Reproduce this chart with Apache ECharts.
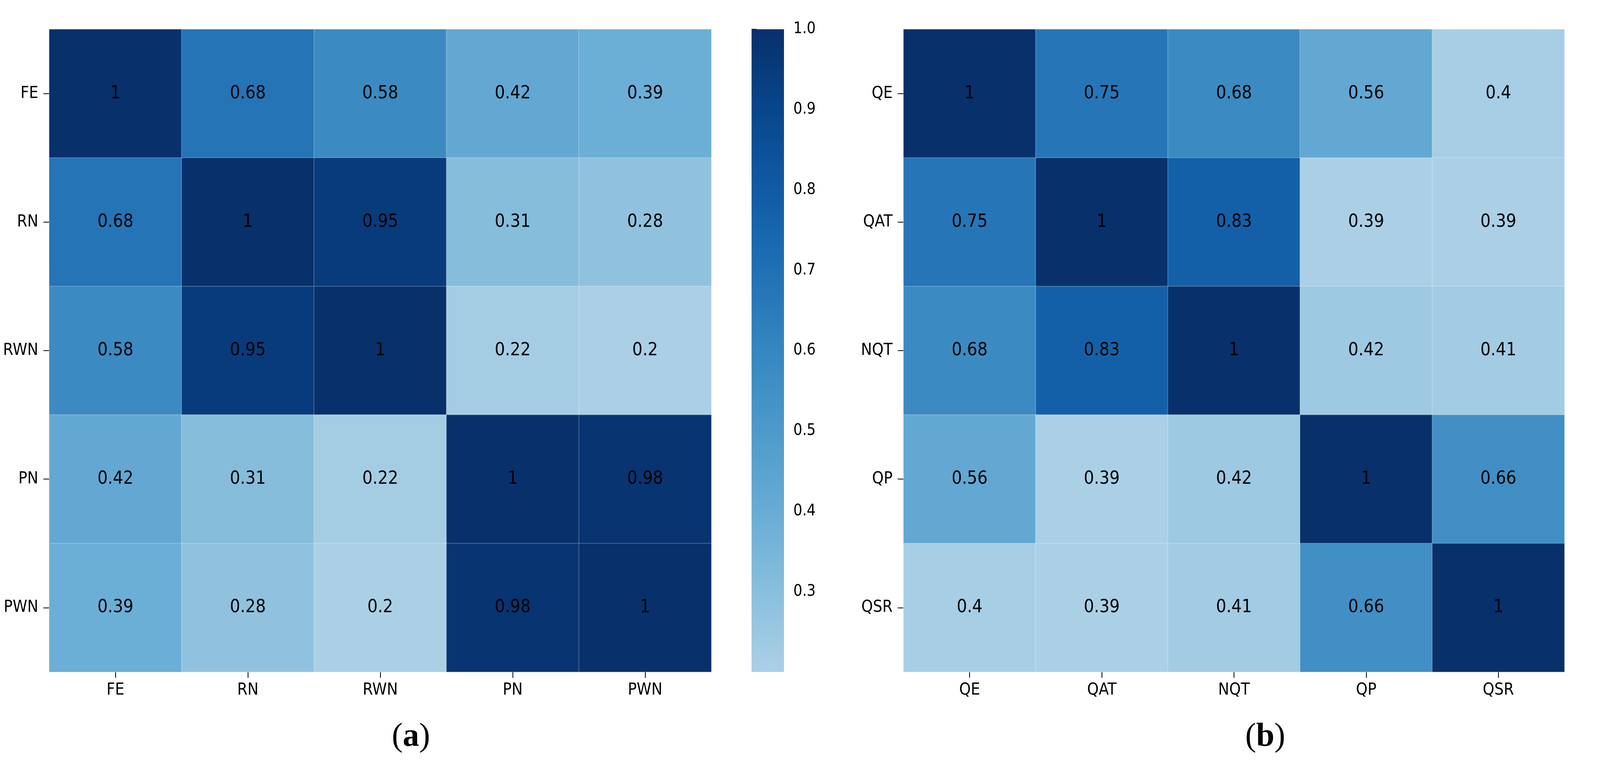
<!DOCTYPE html>
<html>
<head>
<meta charset="utf-8">
<script src="https://cdn.jsdelivr.net/npm/echarts@6/dist/echarts.min.js"></script>
<style>html,body{margin:0;padding:0;background:#fff;}#main{width:4341px;height:1967px;}</style>
</head>
<body>
<div id="main"></div>
<script>
// ---- data ----
const labelsA = ['FE', 'RN', 'RWN', 'PN', 'PWN'];
const corrA = [
  [1, 0.68, 0.58, 0.42, 0.39],
  [0.68, 1, 0.95, 0.31, 0.28],
  [0.58, 0.95, 1, 0.22, 0.2],
  [0.42, 0.31, 0.22, 1, 0.98],
  [0.39, 0.28, 0.2, 0.98, 1]
];
const labelsB = ['QE', 'QAT', 'NQT', 'QP', 'QSR'];
const corrB = [
  [1, 0.75, 0.68, 0.56, 0.4],
  [0.75, 1, 0.83, 0.39, 0.39],
  [0.68, 0.83, 1, 0.42, 0.41],
  [0.56, 0.39, 0.42, 1, 0.66],
  [0.4, 0.39, 0.41, 0.66, 1]
];
const rangeA = [0.2, 1.0];
const rangeB = [0.39, 1.0];
const colorTicksA = [0.3, 0.4, 0.5, 0.6, 0.7, 0.8, 0.9, 1.0];
const colorTicksB = [0.4, 0.5, 0.6, 0.7, 0.8, 0.9, 1.0];
const blues = ['#abd0e6', '#89bfdc', '#68acd5', '#4d9aca', '#3686c0', '#2070b4', '#105ba4', '#08468b', '#08306b'];

// ---- helpers ----
function toCells(m) {
  const out = [];
  m.forEach((row, r) => row.forEach((v, c) => out.push([c, r, v])));
  return out;
}
const FONT = '"DejaVu Sans Condensed", "Liberation Sans Narrow", sans-serif';
const gradStops = blues.map((c, i) => ({ offset: 1 - i / (blues.length - 1), color: c }));

function heatX(grid, labels) {
  return {
    gridIndex: grid, type: 'category', data: labels, position: 'bottom',
    axisLine: { show: false },
    axisTick: { show: true, alignWithLabel: true, length: 15, lineStyle: { color: '#000', width: 2 } },
    axisLabel: { color: '#000', fontSize: 42, fontFamily: FONT, margin: 26 },
    splitLine: { show: false }, splitArea: { show: false }
  };
}
function heatY(grid, labels) {
  return {
    gridIndex: grid, type: 'category', data: labels, inverse: true,
    axisLine: { show: false },
    axisTick: { show: true, alignWithLabel: true, length: 15, lineStyle: { color: '#000', width: 2 } },
    axisLabel: { color: '#000', fontSize: 42, fontFamily: FONT, margin: 28 },
    splitLine: { show: false }, splitArea: { show: false }
  };
}
function barX(grid) {
  return { gridIndex: grid, type: 'value', min: 0, max: 1, show: false };
}
function barY(grid, range, ticks) {
  return {
    gridIndex: grid, type: 'value', min: range[0], max: range[1], position: 'right',
    axisLine: { show: false },
    axisTick: { show: true, length: 13, customValues: ticks, lineStyle: { color: '#000', width: 2 } },
    axisLabel: { show: true, customValues: ticks, color: '#000', fontSize: 40, fontFamily: FONT, margin: 24,
      formatter: v => Number(v).toFixed(1) },
    splitLine: { show: false }
  };
}
function heatSeries(xi, yi, m) {
  return {
    type: 'heatmap', xAxisIndex: xi, yAxisIndex: yi, data: toCells(m),
    label: { show: true, color: '#000', fontSize: 46, fontFamily: FONT, formatter: p => String(p.value[2]) },
    itemStyle: { borderColor: 'rgba(255,255,255,0.22)', borderWidth: 2 },
    emphasis: { disabled: true }
  };
}
function barSeries(xi, yi, range) {
  return {
    type: 'custom', xAxisIndex: xi, yAxisIndex: yi,
    data: [[0, range[0], range[1]]],
    encode: { x: 0, y: [1, 2] },
    renderItem: function (params, api) {
      const p0 = api.coord([0, api.value(2)]);
      const p1 = api.coord([1, api.value(1)]);
      return {
        type: 'rect',
        shape: { x: p0[0], y: p0[1], width: p1[0] - p0[0], height: p1[1] - p0[1] },
        style: { fill: new echarts.graphic.LinearGradient(0, 0, 0, 1, gradStops) }
      };
    }
  };
}

const chart = echarts.init(document.getElementById('main'));
const TOP = 75, H = 1646;
chart.setOption({
  animation: false,
  backgroundColor: '#fff',
  grid: [
    { left: 126, top: TOP, width: 1695, height: H },
    { left: 2313, top: TOP, width: 1692, height: H },
    { left: 1924, top: TOP, width: 83, height: H },
    { left: 4110, top: TOP, width: 83, height: H }
  ],
  xAxis: [heatX(0, labelsA), heatX(1, labelsB), barX(2), barX(3)],
  yAxis: [heatY(0, labelsA), heatY(1, labelsB), barY(2, rangeA, colorTicksA), barY(3, rangeB, colorTicksB)],
  visualMap: [
    { type: 'continuous', show: false, seriesIndex: 0, min: rangeA[0], max: rangeA[1], dimension: 2, inRange: { color: blues } },
    { type: 'continuous', show: false, seriesIndex: 1, min: rangeB[0], max: rangeB[1], dimension: 2, inRange: { color: blues } }
  ],
  series: [
    heatSeries(0, 0, corrA),
    heatSeries(1, 1, corrB),
    barSeries(2, 2, rangeA),
    barSeries(3, 3, rangeB)
  ],
  graphic: [
    { type: 'text', x: 1052, y: 1888, style: { text: '{p|(}{b|a}{p|)}', align: 'center', verticalAlign: 'middle',
      rich: { p: { fontFamily: '"Liberation Serif", serif', fontSize: 84, fill: '#000' },
              b: { fontFamily: '"Liberation Serif", serif', fontSize: 84, fontWeight: 'bold', fill: '#000' } } } },
    { type: 'text', x: 3239, y: 1888, style: { text: '{p|(}{b|b}{p|)}', align: 'center', verticalAlign: 'middle',
      rich: { p: { fontFamily: '"Liberation Serif", serif', fontSize: 84, fill: '#000' },
              b: { fontFamily: '"Liberation Serif", serif', fontSize: 84, fontWeight: 'bold', fill: '#000' } } } }
  ]
});
</script>
</body>
</html>
